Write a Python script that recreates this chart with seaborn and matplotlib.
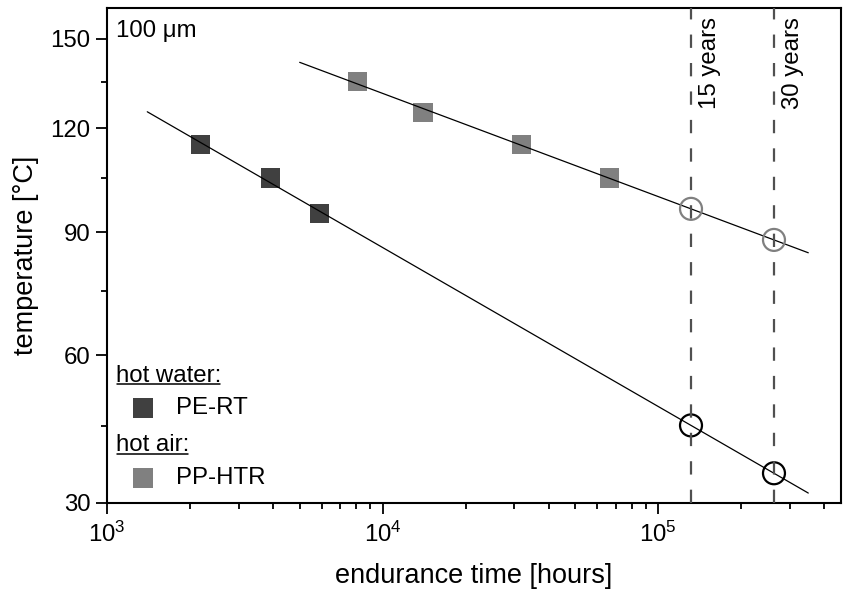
import numpy as np
import pandas as pd
import matplotlib
matplotlib.use("Agg")
import matplotlib.pyplot as plt
import seaborn as sns
from matplotlib.ticker import FixedLocator, NullFormatter, StrMethodFormatter, LogLocator
from matplotlib.lines import Line2D

# ---- data ----
pe_time = [2180, 3910, 5890]          # hours, PE-RT (hot water)
pe_temp = [115, 105, 95]              # deg C
pp_time = [8090, 14000, 32000, 66300] # hours, PP-HTR (hot air)
pp_temp = [135, 125, 115, 105]        # deg C
years = [15, 30]
year_labels = ["15 years", "30 years"]
pe_fit_range = [1.4e3, 3.5e5]
pp_fit_range = [5.0e3, 3.5e5]
y_major = [30, 60, 90, 120, 150]
y_minor = [45, 75, 105, 135]

K = 273.15
HOURS_PER_YEAR = 8760

sns.set_theme(style="ticks")
plt.rcParams["font.family"] = ["Liberation Sans", "DejaVu Sans"]
plt.rcParams["mathtext.fontset"] = "custom"
plt.rcParams["mathtext.rm"] = "Liberation Sans"
plt.rcParams["mathtext.it"] = "Liberation Sans:italic"
plt.rcParams["mathtext.bf"] = "Liberation Sans:bold"
plt.rcParams["text.color"] = "black"
plt.rcParams["axes.labelcolor"] = "black"
plt.rcParams["xtick.color"] = "black"
plt.rcParams["ytick.color"] = "black"

FS = 17.3

def arrhenius_fit(times, temps):
    return np.polyfit(np.log10(times), 1.0 / (np.asarray(temps, float) + K), 1)

def fit_temp(coef, t):
    return 1.0 / np.polyval(coef, np.log10(t)) - K

fig = plt.figure(figsize=(8.43, 5.91), dpi=100)
ax = fig.add_axes([107 / 843, 88.3 / 591, 734 / 843, 495.2 / 591])

fwd = lambda T: -1.0 / (np.asarray(T, float) + K)
inv = lambda v: -1.0 / np.asarray(v, float) - K
ax.set_yscale("function", functions=(fwd, inv))
ax.set_xscale("log")

year_hours = np.array(years) * HOURS_PER_YEAR

for times, temps, rng, col, circ_col in [
    (pe_time, pe_temp, pe_fit_range, "#404040", "black"),
    (pp_time, pp_temp, pp_fit_range, "#808080", "#808080"),
]:
    coef = arrhenius_fit(times, temps)
    tt = np.geomspace(rng[0], rng[1], 60)
    df_line = pd.DataFrame({"t": tt, "T": fit_temp(coef, tt)})
    sns.scatterplot(x=times, y=temps, marker="s", s=190, color=col,
                    edgecolor="none", linewidth=0, ax=ax, zorder=2)
    sns.lineplot(data=df_line, x="t", y="T", color="black", lw=0.9,
                 sort=False, estimator=None, ax=ax, zorder=3)
    sns.scatterplot(x=year_hours, y=fit_temp(coef, year_hours), marker="o", s=250,
                    color="white", edgecolor=circ_col, linewidth=1.6, ax=ax, zorder=4)
    coll = ax.collections[-1]
    coll.set_facecolor("none")
    coll.set_edgecolor(circ_col)

for yh, lab in zip(year_hours, year_labels):
    ax.axvline(yh, color="#505050", lw=1.6, linestyle=(0, (6.0, 6.8)), zorder=5)
    ax.annotate(lab, xy=(yh, 0.981), xycoords=("data", "axes fraction"),
                xytext=(14, 0), textcoords="offset points", rotation=90,
                ha="center", va="top", fontsize=FS, color="black")

ax.set_xlim(1e3, 4.6e5)
ax.set_ylim(30, 161.5)

ax.yaxis.set_major_locator(FixedLocator(y_major))
ax.yaxis.set_minor_locator(FixedLocator(y_minor))
ax.yaxis.set_major_formatter(StrMethodFormatter("{x:.0f}"))
ax.yaxis.set_minor_formatter(NullFormatter())
ax.xaxis.set_major_locator(LogLocator(base=10, numticks=10))
ax.xaxis.set_minor_locator(LogLocator(base=10, subs=np.arange(2, 10), numticks=20))
ax.xaxis.set_minor_formatter(NullFormatter())

ax.tick_params(which="major", direction="out", length=8, width=1.3,
               labelsize=FS, color="black", labelcolor="black", pad=4)
ax.tick_params(axis="x", which="major", pad=6)
ax.tick_params(which="minor", direction="out", length=4, width=1.3, color="black")
for sp in ax.spines.values():
    sp.set_visible(True)
    sp.set_linewidth(1.5)
    sp.set_color("black")

ax.set_xlabel("endurance time [hours]", fontsize=19.5, labelpad=11, color="black")
ax.set_ylabel("temperature [°C]", fontsize=19.5, labelpad=8, color="black")

# annotations / custom legend
ax.text(0.0123, 0.9525, "100 μm", transform=ax.transAxes, fontsize=FS,
        ha="left", va="center", color="black")
h1 = ax.text(0.0123, 0.2443, "hot water:", transform=ax.transAxes, fontsize=FS,
             ha="left", va="baseline", color="black")
h2 = ax.text(0.0123, 0.1044, "hot air:", transform=ax.transAxes, fontsize=FS,
             ha="left", va="baseline", color="black")
ax.plot([0.0486], [0.1906], marker="s", markersize=13.7, color="#404040",
        markeredgewidth=0, transform=ax.transAxes, clip_on=False)
ax.plot([0.0486], [0.0505], marker="s", markersize=13.7, color="#808080",
        markeredgewidth=0, transform=ax.transAxes, clip_on=False)
ax.text(0.094, 0.1906, "PE-RT", transform=ax.transAxes, fontsize=FS,
        ha="left", va="center", color="black")
ax.text(0.094, 0.0505, "PP-HTR", transform=ax.transAxes, fontsize=FS,
        ha="left", va="center", color="black")

fig.canvas.draw()
renderer = fig.canvas.get_renderer()
for h, yb in [(h1, 0.2443), (h2, 0.1044)]:
    bb = h.get_window_extent(renderer)
    ydisp = ax.transAxes.transform((0, yb))[1] - 2.5
    fig.add_artist(Line2D([bb.x0 + 1, bb.x1 - 1], [ydisp, ydisp], transform=None,
                          color="black", lw=1.1))

fig.savefig("out.png", dpi=100)
